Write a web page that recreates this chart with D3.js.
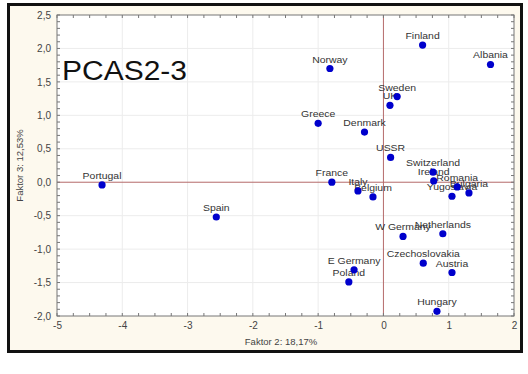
<!DOCTYPE html>
<html><head><meta charset="utf-8">
<script src="https://cdn.jsdelivr.net/npm/d3@7"></script>
<style>body{margin:0;background:#fff}svg{display:block}text{font-family:"Liberation Sans",Arial,sans-serif}</style>
</head><body><svg id="c" width="528" height="374"></svg>
<script>
const countries = ["Portugal","Spain","Norway","Finland","Albania","Sweden","UK","Greece","Denmark","USSR","France","Italy","Belgium","Switzerland","Ireland","Romania","Bulgaria","Yugoslavia","W Germany","Netherlands","Czechoslovakia","Austria","E Germany","Poland","Hungary"];
const faktor2 = [-4.31,-2.56,-0.82,0.60,1.64,0.21,0.10,-1.00,-0.29,0.11,-0.79,-0.39,-0.16,0.76,0.77,1.13,1.31,1.05,0.30,0.91,0.61,1.05,-0.45,-0.53,0.82];
const faktor3 = [-0.04,-0.52,1.70,2.05,1.76,1.28,1.15,0.88,0.75,0.37,0.00,-0.13,-0.22,0.15,0.02,-0.07,-0.16,-0.21,-0.81,-0.77,-1.21,-1.35,-1.31,-1.49,-1.93];
const xTicks = [-5,-4,-3,-2,-1,0,1,2];
const yTicks = [-2.0,-1.5,-1.0,-0.5,0.0,0.5,1.0,1.5,2.0,2.5];
const title = "PCAS2-3";
const xLabel = "Faktor 2: 18,17%";
const yLabel = "Faktor 3: 12,53%";

const svg = d3.select("#c");
const L=57,R=514,T=15,B=316;
const x = d3.scaleLinear().domain([-5,2]).range([L,R]);
const y = d3.scaleLinear().domain([-2,2.5]).range([B,T]);
const fmt = d => d3.format(".1f")(d).replace(".",",").replace("−","-");

svg.append("rect").attr("x",8.5).attr("y",4.5).attr("width",513).attr("height",347)
  .attr("fill","#fdf9ee").attr("stroke","#111").attr("stroke-width",3);
svg.append("rect").attr("x",L).attr("y",T).attr("width",R-L).attr("height",B-T).attr("fill","#fff");

// grid
svg.append("g").selectAll("line").data(xTicks.filter(d=>d!==0&&d>-5&&d<2)).join("line")
  .attr("x1",d=>x(d)).attr("x2",d=>x(d)).attr("y1",T).attr("y2",B).attr("stroke","#ececec");
svg.append("g").selectAll("line").data(yTicks.filter(d=>d!==0&&d>-2&&d<2.5)).join("line")
  .attr("y1",d=>y(d)).attr("y2",d=>y(d)).attr("x1",L).attr("x2",R).attr("stroke","#ececec");

// zero lines
svg.append("line").attr("x1",x(0)).attr("x2",x(0)).attr("y1",T).attr("y2",B).attr("stroke","#b56a6a").attr("stroke-width",1);
svg.append("line").attr("y1",y(0)).attr("y2",y(0)).attr("x1",L).attr("x2",R).attr("stroke","#b56a6a").attr("stroke-width",1);

// frame
svg.append("rect").attr("x",L).attr("y",T).attr("width",R-L).attr("height",B-T).attr("fill","none").attr("stroke","#777").attr("stroke-width",1);

// minor ticks
const xm = d3.range(-5,2.001,0.25), ym = d3.range(-2,2.501,0.1);
const mt = svg.append("g").attr("stroke","#777");
xm.forEach(v=>{mt.append("line").attr("x1",x(v)).attr("x2",x(v)).attr("y1",B).attr("y2",B-3);
  mt.append("line").attr("x1",x(v)).attr("x2",x(v)).attr("y1",T).attr("y2",T+3);});
ym.forEach(v=>{mt.append("line").attr("y1",y(v)).attr("y2",y(v)).attr("x1",L).attr("x2",L+3);
  mt.append("line").attr("y1",y(v)).attr("y2",y(v)).attr("x1",R).attr("x2",R-3);});

// axes via d3
const xa = svg.append("g").attr("transform",`translate(0,${B})`)
  .call(d3.axisBottom(x).tickValues(xTicks).tickFormat(d=>String(d)).tickSize(0).tickPadding(6));
const ya = svg.append("g").attr("transform",`translate(${L},0)`)
  .call(d3.axisLeft(y).tickValues(yTicks).tickFormat(fmt).tickSize(0).tickPadding(6));
[xa,ya].forEach(a=>{a.select(".domain").remove();a.selectAll("text").attr("fill","#444").attr("font-size",10).attr("font-family","Liberation Sans, Arial, sans-serif");});

svg.append("text").attr("x",281).attr("y",345).attr("text-anchor","middle").attr("font-size",9.5).attr("fill","#444").text(xLabel);
svg.append("text").attr("transform",`translate(23,${(T+B)/2}) rotate(-90)`).attr("text-anchor","middle").attr("font-size",9.5).attr("fill","#444").text(yLabel);

svg.append("text").attr("x",62).attr("y",80).attr("font-size",27).attr("fill","#111")
  .attr("textLength",125).attr("lengthAdjust","spacingAndGlyphs").text(title);

// points
const data = countries.map((c,i)=>({c,a:faktor2[i],b:faktor3[i]}));
svg.append("g").selectAll("text").data(data).join("text")
  .attr("transform",d=>`translate(${x(d.a)},${y(d.b)-6}) scale(1.1,1)`).attr("text-anchor","middle")
  .attr("font-size",9.5).attr("fill","#333").text(d=>d.c);
svg.append("g").selectAll("circle").data(data).join("circle")
  .attr("cx",d=>x(d.a)).attr("cy",d=>y(d.b)).attr("r",3.6).attr("fill","#0000cc");
</script></body></html>
